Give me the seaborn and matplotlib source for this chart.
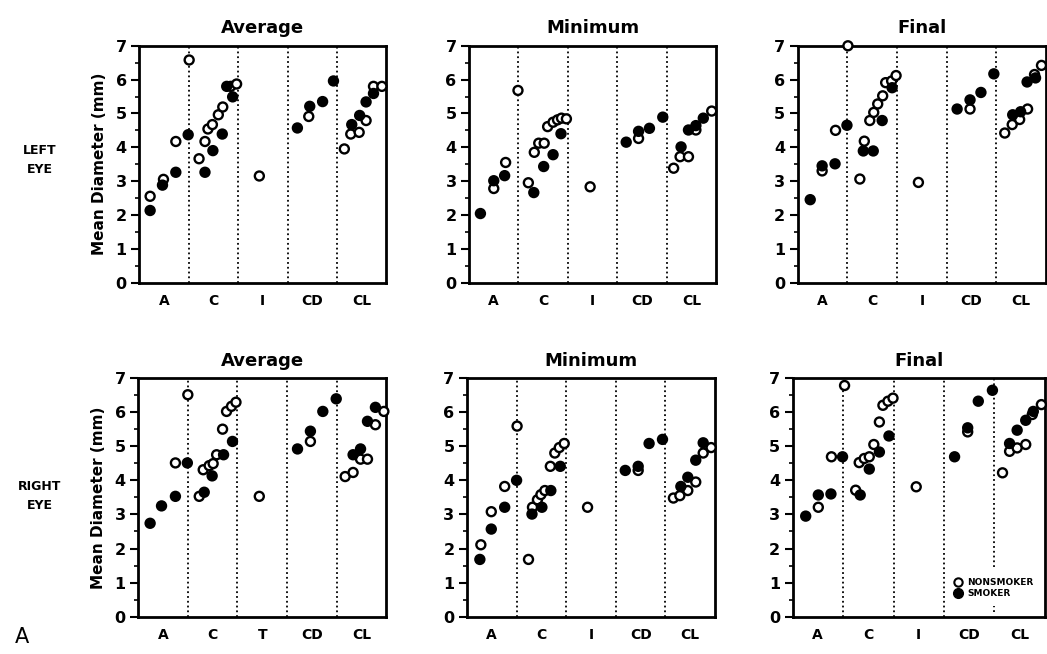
import matplotlib
matplotlib.use('Agg')
import matplotlib.pyplot as plt
from matplotlib.lines import Line2D
import numpy as np
import pandas as pd
import seaborn as sns

# positions are in group units: A=0-1, C=1-2, I=2-3, CD=3-4, CL=4-5
groups_top = ['A', 'C', 'I', 'CD', 'CL']
groups_right_avg = ['A', 'C', 'T', 'CD', 'CL']

# LEFT EYE - Average
left_avg_non_x = [0.22, 0.49, 0.74, 1.01, 1.21, 1.33, 1.39, 1.48, 1.60, 1.69, 1.85, 1.97, 2.43, 3.43, 4.15, 4.28, 4.45, 4.59, 4.74, 4.91]
left_avg_non_y = [2.55, 3.05, 4.17, 6.58, 3.66, 4.17, 4.54, 4.67, 4.96, 5.19, 5.80, 5.87, 3.15, 4.91, 3.95, 4.39, 4.44, 4.79, 5.80, 5.80]
left_avg_smk_x = [0.22, 0.47, 0.74, 0.99, 1.33, 1.49, 1.68, 1.77, 1.89, 3.20, 3.45, 3.71, 3.93, 4.30, 4.46, 4.59, 4.74]
left_avg_smk_y = [2.13, 2.88, 3.26, 4.37, 3.26, 3.90, 4.39, 5.80, 5.49, 4.57, 5.21, 5.35, 5.96, 4.67, 4.94, 5.34, 5.59]

# LEFT EYE - Minimum
left_min_non_x = [0.50, 0.74, 0.99, 1.20, 1.32, 1.41, 1.52, 1.59, 1.70, 1.79, 1.87, 1.97, 2.45, 3.43, 4.14, 4.27, 4.44, 4.59, 4.91]
left_min_non_y = [2.78, 3.55, 5.68, 2.95, 3.85, 4.12, 4.12, 4.61, 4.74, 4.81, 4.86, 4.84, 2.83, 4.26, 3.38, 3.72, 3.72, 4.51, 5.07]
left_min_smk_x = [0.23, 0.50, 0.72, 1.31, 1.51, 1.70, 1.86, 3.18, 3.43, 3.65, 3.92, 4.29, 4.44, 4.59, 4.74]
left_min_smk_y = [2.04, 3.01, 3.16, 2.66, 3.43, 3.78, 4.40, 4.15, 4.47, 4.56, 4.89, 4.01, 4.51, 4.64, 4.86]

# LEFT EYE - Final
left_fin_non_x = [0.49, 0.76, 1.01, 1.25, 1.34, 1.45, 1.53, 1.61, 1.71, 1.77, 1.89, 1.98, 2.43, 3.47, 4.17, 4.32, 4.47, 4.63, 4.77, 4.91]
left_fin_non_y = [3.30, 4.50, 7.00, 3.06, 4.18, 4.79, 5.03, 5.28, 5.52, 5.91, 5.96, 6.12, 2.96, 5.13, 4.42, 4.67, 4.82, 5.13, 6.15, 6.42]
left_fin_smk_x = [0.25, 0.49, 0.75, 0.99, 1.32, 1.52, 1.70, 1.90, 3.21, 3.47, 3.69, 3.95, 4.33, 4.49, 4.62, 4.79]
left_fin_smk_y = [2.45, 3.45, 3.51, 4.65, 3.89, 3.89, 4.79, 5.76, 5.13, 5.40, 5.62, 6.17, 4.96, 5.05, 5.93, 6.05]

# RIGHT EYE - Average
right_avg_non_x = [0.75, 1.00, 1.23, 1.31, 1.43, 1.51, 1.58, 1.70, 1.78, 1.88, 1.97, 2.44, 3.47, 4.17, 4.33, 4.48, 4.62, 4.78, 4.95]
right_avg_non_y = [4.51, 6.51, 3.53, 4.31, 4.43, 4.49, 4.75, 5.50, 6.02, 6.17, 6.29, 3.53, 5.14, 4.11, 4.23, 4.62, 4.62, 5.63, 6.02]
right_avg_smk_x = [0.24, 0.47, 0.75, 0.99, 1.33, 1.49, 1.72, 1.90, 3.21, 3.47, 3.72, 3.99, 4.33, 4.48, 4.62, 4.78]
right_avg_smk_y = [2.74, 3.25, 3.53, 4.51, 3.65, 4.13, 4.75, 5.14, 4.92, 5.44, 6.02, 6.39, 4.75, 4.92, 5.73, 6.14]

# RIGHT EYE - Minimum
right_min_non_x = [0.28, 0.49, 0.76, 1.01, 1.24, 1.32, 1.42, 1.49, 1.57, 1.68, 1.77, 1.86, 1.96, 2.43, 3.45, 4.16, 4.29, 4.45, 4.61, 4.76, 4.92]
right_min_non_y = [2.11, 3.08, 3.82, 5.59, 1.68, 3.21, 3.43, 3.58, 3.70, 4.41, 4.80, 4.96, 5.08, 3.21, 4.29, 3.48, 3.55, 3.70, 3.95, 4.80, 4.96]
right_min_smk_x = [0.26, 0.49, 0.76, 1.00, 1.31, 1.51, 1.69, 1.88, 3.19, 3.45, 3.67, 3.94, 4.31, 4.45, 4.61, 4.76]
right_min_smk_y = [1.68, 2.57, 3.21, 4.00, 3.01, 3.21, 3.70, 4.41, 4.29, 4.41, 5.08, 5.20, 3.82, 4.09, 4.59, 5.10]

# RIGHT EYE - Final
right_fin_non_x = [0.51, 0.77, 1.03, 1.25, 1.32, 1.42, 1.52, 1.61, 1.72, 1.79, 1.89, 1.99, 2.45, 3.47, 4.16, 4.30, 4.45, 4.62, 4.75, 4.93]
right_fin_non_y = [3.21, 4.69, 6.78, 3.71, 4.52, 4.64, 4.69, 5.05, 5.71, 6.20, 6.32, 6.41, 3.81, 5.42, 4.22, 4.85, 4.95, 5.05, 5.93, 6.22]
right_fin_smk_x = [0.26, 0.51, 0.76, 0.99, 1.34, 1.52, 1.72, 1.91, 3.21, 3.47, 3.68, 3.96, 4.30, 4.45, 4.62, 4.77]
right_fin_smk_y = [2.95, 3.57, 3.60, 4.69, 3.57, 4.33, 4.83, 5.30, 4.69, 5.54, 6.32, 6.64, 5.08, 5.47, 5.76, 6.02]

sns.set_style('ticks')
plt.rcParams['font.family'] = ['DejaVu Sans']
plt.rcParams['text.color'] = 'black'
plt.rcParams['axes.labelcolor'] = 'black'
plt.rcParams['axes.edgecolor'] = 'black'
plt.rcParams['xtick.color'] = 'black'
plt.rcParams['ytick.color'] = 'black'


def make_df(nx, ny, sx, sy):
    a = pd.DataFrame({'pos': nx, 'diam': ny, 'status': 'NONSMOKER'})
    b = pd.DataFrame({'pos': sx, 'diam': sy, 'status': 'SMOKER'})
    return pd.concat([a, b], ignore_index=True)


def draw_panel(ax, df, title, labels, ylabel=False, split_last=False):
    for d in [1, 2, 3, 4]:
        if split_last and d == 4:
            ax.axvline(d, ymin=1.45 / 7, ymax=1, color='black', ls=':', lw=1.3)
            ax.axvline(d, ymin=0.15 / 7, ymax=0.3 / 7, color='black', ls=':', lw=1.3)
        else:
            ax.axvline(d, color='black', ls=':', lw=1.3)
    sns.scatterplot(data=df, x='pos', y='diam', hue='status',
                    palette={'NONSMOKER': 'white', 'SMOKER': 'black'},
                    edgecolor='black', linewidth=1.7, s=42, legend=False,
                    ax=ax, clip_on=False, zorder=3)
    ax.set_xlim(0, 5)
    ax.set_ylim(0, 7)
    ax.set_xticks(np.arange(5) + 0.5)
    ax.set_xticklabels(labels, fontsize=10, fontweight='bold')
    ax.set_yticks(range(8))
    ax.set_yticklabels([str(v) for v in range(8)], fontsize=11.5, fontweight='bold')
    ax.set_yticks(np.arange(0, 7, 0.5), minor=True)
    ax.tick_params(axis='x', length=0, pad=8)
    ax.tick_params(axis='y', which='major', length=6, width=1.5, pad=3)
    ax.tick_params(axis='y', which='minor', length=3, width=1.2)
    for sp in ax.spines.values():
        sp.set_visible(True)
        sp.set_linewidth(2)
    ax.set_xlabel('')
    ax.set_title(title, fontsize=13, fontweight='bold', pad=9)
    if ylabel:
        ax.set_ylabel('Mean Diameter (mm)', fontsize=11, fontweight='bold', labelpad=6)
    else:
        ax.set_ylabel('')


fig = plt.figure(figsize=(10.47, 6.54), dpi=100)

top_b, top_h = 0.568, 0.362
bot_b, bot_h = 0.057, 0.365

ax1 = fig.add_axes([0.133, top_b, 0.236, top_h])
ax2 = fig.add_axes([0.448, top_b, 0.236, top_h])
ax3 = fig.add_axes([0.762, top_b, 0.237, top_h])
ax4 = fig.add_axes([0.132, bot_b, 0.237, bot_h])
ax5 = fig.add_axes([0.446, bot_b, 0.237, bot_h])
ax6 = fig.add_axes([0.757, bot_b, 0.241, bot_h])

draw_panel(ax1, make_df(left_avg_non_x, left_avg_non_y, left_avg_smk_x, left_avg_smk_y), 'Average', groups_top, ylabel=True)
draw_panel(ax2, make_df(left_min_non_x, left_min_non_y, left_min_smk_x, left_min_smk_y), 'Minimum', groups_top)
draw_panel(ax3, make_df(left_fin_non_x, left_fin_non_y, left_fin_smk_x, left_fin_smk_y), 'Final', groups_top)
draw_panel(ax4, make_df(right_avg_non_x, right_avg_non_y, right_avg_smk_x, right_avg_smk_y), 'Average', groups_right_avg, ylabel=True)
draw_panel(ax5, make_df(right_min_non_x, right_min_non_y, right_min_smk_x, right_min_smk_y), 'Minimum', groups_top)
draw_panel(ax6, make_df(right_fin_non_x, right_fin_non_y, right_fin_smk_x, right_fin_smk_y), 'Final', groups_top, split_last=True)

handles = [Line2D([], [], marker='o', ls='', markerfacecolor='white', markeredgecolor='black', markeredgewidth=1.5, markersize=6),
           Line2D([], [], marker='o', ls='', markerfacecolor='black', markeredgecolor='black', markersize=7)]
ax6.legend(handles, ['NONSMOKER', 'SMOKER'], loc='center left', bbox_to_anchor=(0.6, 0.12),
           frameon=False, handletextpad=0.1, labelspacing=0.2, borderpad=0,
           prop={'weight': 'bold', 'size': 6.5})

fig.text(0.038, 0.755, 'LEFT\nEYE', ha='center', va='center', fontsize=9, fontweight='bold', linespacing=1.6)
fig.text(0.038, 0.242, 'RIGHT\nEYE', ha='center', va='center', fontsize=9, fontweight='bold', linespacing=1.6)
fig.text(0.021, 0.026, 'A', ha='center', va='center', fontsize=15)

fig.savefig('out.png', dpi=100)
